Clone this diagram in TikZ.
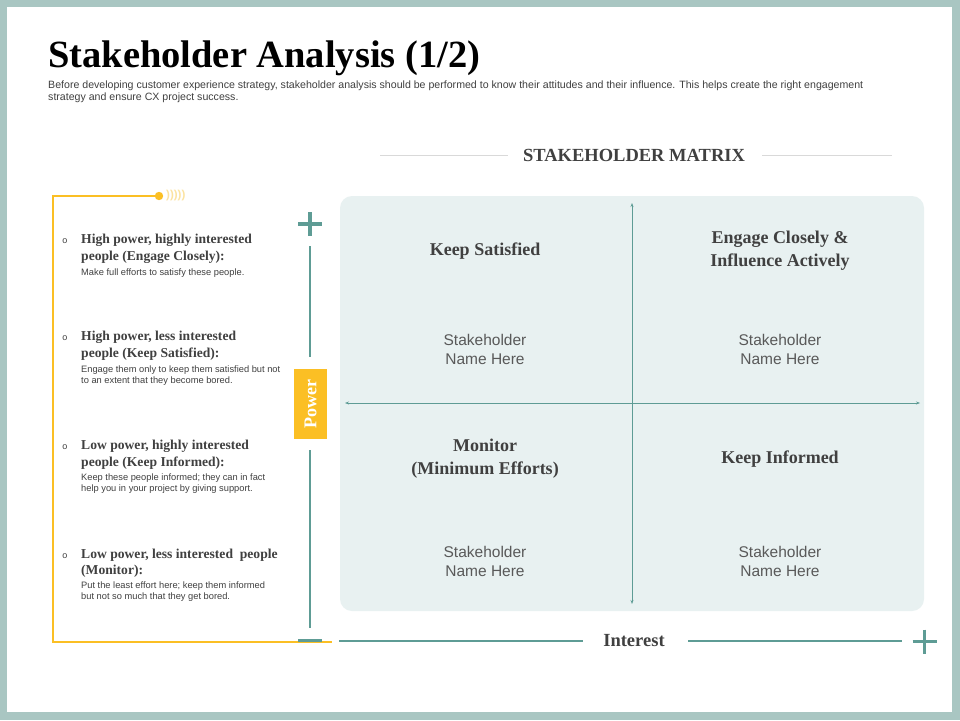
\documentclass[tikz,border=0pt]{standalone}
\usepackage{fontspec}
\setmainfont{Liberation Serif}
\newfontfamily\arialf{Liberation Sans}
\usetikzlibrary{arrows.meta,calc}
\definecolor{tealax}{HTML}{5E9C95}
\definecolor{boxfill}{HTML}{E8F1F1}
\definecolor{ylw}{HTML}{FBBF24}
\definecolor{ylwlight}{HTML}{FCE3A0}
\definecolor{txt}{HTML}{404040}
\definecolor{txtlight}{HTML}{595959}
\definecolor{framec}{HTML}{A9C6C2}
\definecolor{rulegray}{HTML}{D9D9D9}
\tikzset{
  titletext/.style={font=\fontsize{38.5}{44}\selectfont\bfseries, text=black, anchor=base west, inner sep=0pt},
  subtext/.style={font=\arialf\fontsize{10.6}{12}\selectfont, text=txt, anchor=base west, inner sep=0pt},
  headtext/.style={font=\fontsize{18.5}{22}\selectfont\bfseries, text=txt, inner sep=0pt},
  itemhead/.style={font=\fontsize{13.6}{16}\selectfont\bfseries, text=txt, anchor=base west, inner sep=0pt},
  itemdesc/.style={font=\arialf\fontsize{9.3}{11}\selectfont, text=txt, anchor=base west, inner sep=0pt},
  bulletmark/.style={font=\arialf\fontsize{9}{11}\selectfont, text=txt, anchor=base, inner sep=0pt},
  quadhead/.style={font=\fontsize{18}{23}\selectfont\bfseries, text=txt, align=center, inner sep=0pt},
  quadname/.style={font=\arialf\fontsize{15.5}{19}\selectfont, text=txtlight, align=center, inner sep=0pt},
  innerax/.style={draw=tealax, line width=0.9pt, {Stealth[length=4pt,width=3pt]}-{Stealth[length=4pt,width=3pt]}},
  plusmark/.style={draw=tealax, line width=3.2pt},
  bracket/.style={draw=ylw, line width=1.1pt},
  grayrule/.style={draw=rulegray, line width=0.8pt}
}
\begin{document}
\begin{tikzpicture}[x=1pt,y=-1pt]
\useasboundingbox (0,0) rectangle (960,720);
% frame
\fill[framec] (0,0) rectangle (960,720);
\fill[white] (7,7) rectangle (952,712);

% title
\node[titletext] (title) at (48,67) {Stakeholder Analysis (1/2)};
\node[subtext] (sub1) at (48,88) {Before developing customer experience strategy, stakeholder analysis should be performed to know their attitudes and their influence. This helps create the right engagement};
\node[subtext] (sub2) at (48,100.5) {strategy and ensure CX project success.};

% matrix heading
\node[headtext] (mhead) at (634,155) {STAKEHOLDER MATRIX};
\coordinate (ml1) at (380,155); \coordinate (ml2) at (508,155);
\coordinate (mr1) at (762,155); \coordinate (mr2) at (892,155);
\draw[grayrule] (ml1) -- (ml2);
\draw[grayrule] (mr1) -- (mr2);

% yellow bracket
\coordinate (bt) at (159,196);
\coordinate (btl) at (53,196);
\coordinate (bbl) at (53,642);
\coordinate (bbr) at (332,642);
\draw[bracket] (bt) -- (btl) -- (bbl) -- (bbr);
\fill[ylw] (bt) circle (4.2pt);
\node[font=\arialf\fontsize{11.5}{12}\selectfont\bfseries, text=ylwlight, anchor=west, inner sep=0pt] (waves) at (166,196) {)))))};

% left items
\node[bulletmark] (b1) at (65,243) {o};
\node[itemhead] (i1a) at (81,243.5) {High power, highly interested};
\node[itemhead] (i1b) at (81,260) {people (Engage Closely):};
\node[itemdesc] (i1c) at (81,275) {Make full efforts to satisfy these people.};

\node[bulletmark] (b2) at (65,340) {o};
\node[itemhead] (i2a) at (81,340.5) {High power, less interested};
\node[itemhead] (i2b) at (81,357) {people (Keep Satisfied):};
\node[itemdesc] (i2c) at (81,372) {Engage them only to keep them satisfied but not};
\node[itemdesc] (i2d) at (81,383) {to an extent that they become bored.};

\node[bulletmark] (b3) at (65,449) {o};
\node[itemhead] (i3a) at (81,449.5) {Low power, highly interested};
\node[itemhead] (i3b) at (81,466) {people (Keep Informed):};
\node[itemdesc] (i3c) at (81,480.5) {Keep these people informed; they can in fact};
\node[itemdesc] (i3d) at (81,491.5) {help you in your project by giving support.};

\node[bulletmark] (b4) at (65,558) {o};
\node[itemhead] (i4a) at (81,558.5) {Low power, less interested\ \ people};
\node[itemhead] (i4b) at (81,574.5) {(Monitor):};
\node[itemdesc] (i4c) at (81,588.5) {Put the least effort here; keep them informed};
\node[itemdesc] (i4d) at (81,599.5) {but not so much that they get bored.};

% power axis
\coordinate (pl) at (310,224);
\draw[plusmark] ($(pl)+(-12,0)$) -- ($(pl)+(12,0)$);
\draw[plusmark] ($(pl)+(0,-12)$) -- ($(pl)+(0,12)$);
\node[fill=ylw, minimum width=33pt, minimum height=70pt, inner sep=0pt] (powerbox) at (310.5,404) {};
\node[rotate=90, font=\fontsize{18}{20}\selectfont\bfseries, text=white, inner sep=0pt] (power) at (powerbox.center) {Power};
\coordinate (pv1) at (310,246); \coordinate (pv2) at (310,357);
\coordinate (pv3) at (310,450); \coordinate (pv4) at (310,628);
\draw[tealax, line width=1.4pt] (pv1) -- (pv2);
\draw[tealax, line width=1.4pt] (pv3) -- (pv4);
\coordinate (mn) at (310,641);
\draw[tealax, line width=4pt] ($(mn)+(-12,0)$) -- ($(mn)+(12,0)$);
\draw[ylw, line width=0.8pt] ($(mn)+(-12,1.6)$) -- ($(mn)+(12,1.6)$);

% interest axis
\node[headtext] (interest) at (634,641) {Interest};
\coordinate (ia1) at (339,641); \coordinate (ia2) at (583,641);
\coordinate (ia3) at (688,641); \coordinate (ia4) at (902,641);
\draw[tealax, line width=1.4pt] (ia1) -- (ia2);
\draw[tealax, line width=1.4pt] (ia3) -- (ia4);
\coordinate (pr) at (924.5,641.5);
\draw[plusmark] ($(pr)+(-12,0)$) -- ($(pr)+(12,0)$);
\draw[plusmark] ($(pr)+(0,-12)$) -- ($(pr)+(0,12)$);

% matrix box
\node[fill=boxfill, rounded corners=12pt, minimum width=584pt, minimum height=415pt, inner sep=0pt] (mbox) at (632,403.5) {};
\coordinate (vt) at (632,203); \coordinate (vb) at (632,604);
\coordinate (hl) at (345,403); \coordinate (hr) at (920,403);
\draw[innerax] (vb) -- (vt);
\draw[innerax] (hl) -- (hr);

% quadrants
\node[quadhead] (q1h) at (485,251) {Keep Satisfied};
\node[quadhead] (q2h) at (780,250.5) {Engage Closely \&\\Influence Actively};
\node[quadhead] (q3h) at (485,459) {Monitor\\(Minimum Efforts)};
\node[quadhead] (q4h) at (780,459) {Keep Informed};
\node[quadname] (q1n) at (485,349) {Stakeholder\\Name Here};
\node[quadname] (q2n) at (780,349) {Stakeholder\\Name Here};
\node[quadname] (q3n) at (485,561) {Stakeholder\\Name Here};
\node[quadname] (q4n) at (780,561) {Stakeholder\\Name Here};
\end{tikzpicture}
\end{document}
